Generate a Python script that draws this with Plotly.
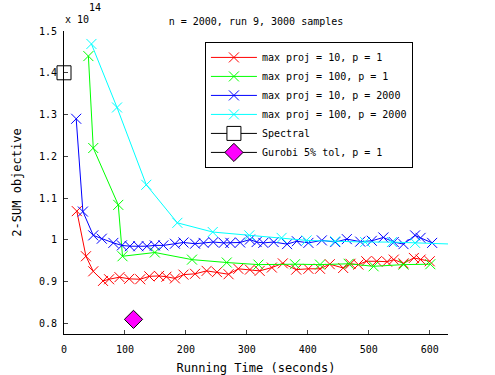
import plotly.graph_objects as go

# running time (s) and 2-SUM objective (x 1e14)
red_x = [21, 36, 48, 64, 74, 91, 107, 125, 140, 156, 168, 182, 196, 215, 234, 251, 270, 286, 305,
         321, 341, 359, 381, 401, 420, 436, 458, 470, 483, 496, 513, 530, 541, 557, 574, 585, 600]
red_y = [1.069, 0.961, 0.925, 0.902, 0.906, 0.911, 0.907, 0.906, 0.913, 0.914, 0.912, 0.908, 0.917,
         0.919, 0.926, 0.923, 0.918, 0.931, 0.929, 0.926, 0.934, 0.944, 0.929, 0.931, 0.931, 0.942,
         0.933, 0.943, 0.941, 0.949, 0.949, 0.948, 0.953, 0.944, 0.957, 0.953, 0.949]

green_x = [40, 48, 89, 96, 149, 210, 267, 319, 379, 420, 467, 508, 557, 601]
green_y = [1.440, 1.220, 1.084, 0.961, 0.970, 0.953, 0.946, 0.941, 0.942, 0.941, 0.943, 0.937, 0.941, 0.942]

blue_x = [20, 31, 48, 62, 81, 95, 108, 122, 136, 149, 163, 182, 196, 215, 229, 245, 262, 273, 289,
          305, 316, 327, 344, 366, 382, 401, 423, 445, 464, 486, 505, 524, 541, 557, 576, 585, 604]
blue_y = [1.290, 1.068, 1.011, 1.003, 0.993, 0.987, 0.985, 0.985, 0.985, 0.987, 0.987, 0.991, 0.994,
          0.991, 0.993, 0.995, 0.993, 0.993, 0.994, 1.001, 0.995, 0.993, 0.995, 0.990, 0.997, 0.993,
          0.999, 0.995, 1.002, 0.996, 0.998, 1.006, 0.995, 0.990, 1.011, 1.005, 0.993]

cyan_x = [45, 87, 135, 186, 244, 304, 357, 398, 445, 494, 538, 576, 640]
cyan_y = [1.469, 1.317, 1.132, 1.041, 1.019, 1.011, 1.005, 0.999, 0.997, 0.995, 0.995, 0.993, 0.990]

spectral_x = [0]
spectral_y = [1.40]
gurobi_x = [114]
gurobi_y = [0.81]

y_ticks = [0.8, 0.9, 1.0, 1.1, 1.2, 1.3, 1.4, 1.5]
y_ticktext = ["0.8", "0.9", "1", "1.1", "1.2", "1.3", "1.4", "1.5"]
x_ticks = [0, 100, 200, 300, 400, 500, 600]

FONT = "DejaVu Sans Mono"

fig = go.Figure()

for xs, ys, col, name in [
    (red_x, red_y, "#ff0000", "max proj = 10, p = 1"),
    (green_x, green_y, "#00ff00", "max proj = 100, p = 1"),
    (blue_x, blue_y, "#0000ff", "max proj = 10, p = 2000"),
    (cyan_x, cyan_y, "#00ffff", "max proj = 100, p = 2000"),
]:
    fig.add_trace(go.Scatter(x=xs, y=ys, mode="lines+markers", name=name,
                             line=dict(color=col, width=1),
                             marker=dict(symbol="x-thin", size=10,
                                         line=dict(color=col, width=1))))

fig.add_trace(go.Scatter(x=spectral_x, y=spectral_y, mode="lines+markers", name="Spectral",
                         line=dict(color="black", width=1),
                         marker=dict(symbol="square", size=14, color="white",
                                     line=dict(color="black", width=1)),
                         cliponaxis=False))
fig.add_trace(go.Scatter(x=gurobi_x, y=gurobi_y, mode="lines+markers", name="Gurobi 5% tol, p = 1",
                         line=dict(color="black", width=1),
                         marker=dict(symbol="diamond", size=14, color="#ff00ff",
                                     line=dict(color="black", width=1))))

# exponent label, drawn as MATLAB does: "x 10" with a raised "14"
fig.add_annotation(text="x 10", xref="paper", yref="paper", x=-0.003, y=1.037,
                   xanchor="left", yanchor="middle", showarrow=False,
                   font=dict(family=FONT, size=10, color="black"))
fig.add_annotation(text="14", xref="paper", yref="paper", x=0.06, y=1.077,
                   xanchor="left", yanchor="middle", showarrow=False,
                   font=dict(family=FONT, size=10, color="black"))

fig.update_layout(
    width=495, height=375,
    paper_bgcolor="white", plot_bgcolor="white",
    margin=dict(l=64, r=47, t=31, b=41),
    font=dict(family=FONT, size=10, color="black"),
    title=dict(text="n = 2000, run 9, 3000 samples", x=0.5, xref="paper",
               y=0.944, yanchor="middle", font=dict(family=FONT, size=10)),
    xaxis=dict(range=[0, 630], tickvals=x_ticks, ticks="inside", ticklen=4,
               showline=True, linecolor="black", linewidth=1, showgrid=False, zeroline=False,
               ticklabelstandoff=6, automargin=False,
               title=dict(text="Running Time (seconds)", standoff=10)),
    yaxis=dict(range=[0.775, 1.5], tickvals=y_ticks, ticktext=y_ticktext, ticks="inside",
               ticklen=4, showline=True, linecolor="black", linewidth=1, showgrid=False,
               zeroline=False, ticklabelstandoff=4, automargin=False,
               title=dict(text="2-SUM objective", standoff=14)),
    legend=dict(x=0.367, y=0.964, xanchor="left", yanchor="top", itemwidth=46,
                bordercolor="black", borderwidth=1, bgcolor="white",
                font=dict(family=FONT, size=10), tracegroupgap=0),
)

fig.write_html("out.html", config={"displayModeBar": False},
               post_script="document.body.style.margin='0';")
